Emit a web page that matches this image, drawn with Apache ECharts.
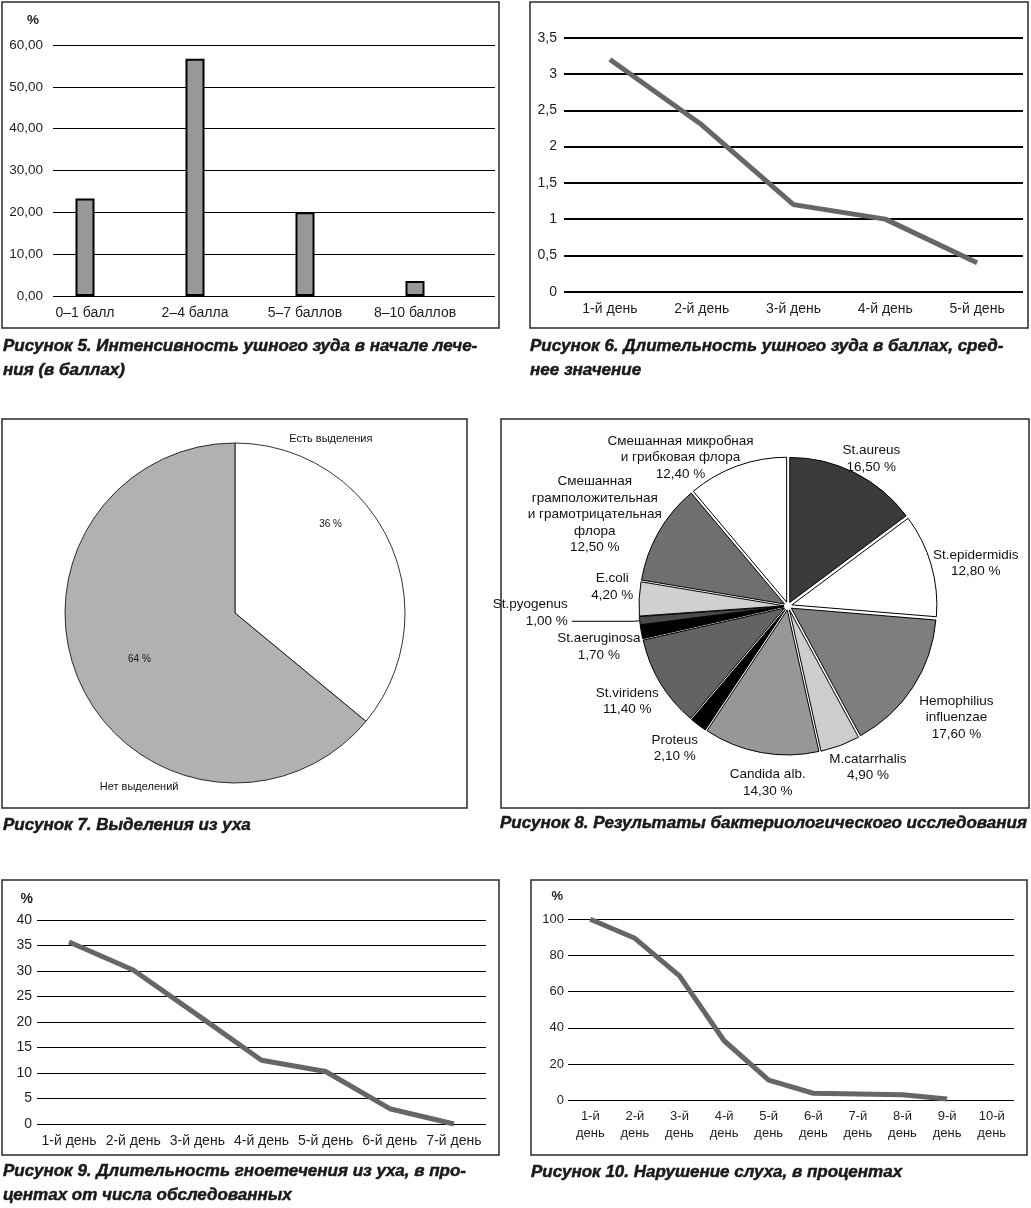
<!DOCTYPE html>
<html><head><meta charset="utf-8">
<script src="https://cdn.jsdelivr.net/npm/echarts@6/dist/echarts.min.js"></script>
<style>html,body{margin:0;padding:0;background:#fff}#c{width:1031px;height:1208px}</style>
</head><body><div id="c"></div>
<script>
// ---- data ----
const fig5Categories = ['0–1 балл', '2–4 балла', '5–7 баллов', '8–10 баллов'];
const fig5Values = [23.3, 56.7, 20.0, 3.6];
const fig5Ticks = [0, 60, 10];

const fig6Days = ['1-й день', '2-й день', '3-й день', '4-й день', '5-й день'];
const fig6Values = [3.2, 2.3, 1.2, 1.0, 0.4];
const fig6Ticks = [0, 3.5, 0.5];

const fig7Names = ['Есть выделения', 'Нет выделений'];
const fig7Values = [36, 64];

const fig8Names = ['St.aureus', 'St.epidermidis', 'Hemophilius\ninfluenzae', 'M.catarrhalis',
  'Candida alb.', 'Proteus', 'St.viridens', 'St.aeruginosa', 'St.pyogenus', 'E.coli',
  'Смешанная\nграмположительная\nи грамотрицательная\nфлора', 'Смешанная микробная\nи грибковая флора'];
const fig8Values = [16.5, 12.8, 17.6, 4.9, 14.3, 2.1, 11.4, 1.7, 1.0, 4.2, 12.5, 12.4];

const fig9Days = ['1-й день', '2-й день', '3-й день', '4-й день', '5-й день', '6-й день', '7-й день'];
const fig9Values = [35.7, 30.2, 21.4, 12.5, 10.3, 3.0, 0];
const fig9Ticks = [0, 40, 5];

const fig10Days = ['1-й\nдень', '2-й\nдень', '3-й\nдень', '4-й\nдень', '5-й\nдень', '6-й\nдень', '7-й\nдень', '8-й\nдень', '9-й\nдень', '10-й\nдень'];
const fig10Values = [100, 89.5, 68.7, 32.9, 11.2, 3.9, 3.5, 3.1, 0.7, null];
const fig10Ticks = [0, 100, 20];

const captions = [
  'Рисунок 5. Интенсивность ушного зуда в начале лече-\nния (в баллах)',
  'Рисунок 6. Длительность ушного зуда в баллах, сред-\nнее значение',
  'Рисунок 7. Выделения из уха',
  'Рисунок 8. Результаты бактериологического исследования',
  'Рисунок 9. Длительность гноетечения из уха, в про-\nцентах от числа обследованных',
  'Рисунок 10. Нарушение слуха, в процентах'
];

// ---- styles ----
const FONT = 'Liberation Sans, Arial, sans-serif';
const TXT = '#1e1e1e';
const fig8Colors = ['#3b3b3b', '#ffffff', '#7e7e7e', '#cdcdcd', '#979797', '#000000', '#636363', '#000000', '#4a4a4a', '#d0d0d0', '#6f6f6f', '#ffffff'];
const fig7Colors = ['#ffffff', '#b1b1b1'];
const fig8LabelNudge = {0: [-1, 21], 1: [7, 9], 2: [11, 9], 3: [14, -15], 4: [14, -8], 5: [0, -8], 6: [0, -2], 7: [-4, 8], 9: [12, -10], 10: [-30, 2], 11: [-43, 28]};
const comma = v => String(v).replace('.', ',');

const hiddenAxis = (type, grid, extra) => Object.assign({type, gridIndex: grid, show: false}, extra || {});
function valueAxis(grid, ticks, fmt, size, margin, lineW, name, nameGap, namePad) {
  return {
    type: 'value', gridIndex: grid, min: ticks[0], max: ticks[1], interval: ticks[2],
    axisLine: {show: false}, axisTick: {show: false},
    splitLine: {show: true, lineStyle: {color: '#000', width: lineW}},
    axisLabel: {formatter: fmt, fontSize: size, color: TXT, fontFamily: FONT, margin},
    name: name || '', nameLocation: 'end', nameGap: nameGap || 15,
    nameTextStyle: {fontWeight: 'bold', fontSize: size, color: TXT, fontFamily: FONT, align: 'right', padding: [0, namePad || 0, 0, 0]}
  };
}
function catAxis(grid, data, size, margin, lh) {
  return {
    type: 'category', gridIndex: grid, data, boundaryGap: true,
    axisLine: {show: false}, axisTick: {show: false},
    axisLabel: {interval: 0, fontSize: size, color: TXT, fontFamily: FONT, margin, lineHeight: lh || size * 1.2}
  };
}
function lineSeries(x, y, data) {
  return {type: 'line', xAxisIndex: x, yAxisIndex: y, data, showSymbol: false, symbol: 'none',
    lineStyle: {color: '#666', width: 5}, silent: true, connectNulls: false};
}
const labelPie = (center, radius, startAngle, data, fmt, size, extra) => Object.assign({
  type: 'pie', center, radius, startAngle, clockwise: true, silent: true, avoidLabelOverlap: false,
  data, itemStyle: {color: 'transparent', borderWidth: 0}, emphasis: {disabled: true},
  labelLine: {show: false},
  label: {show: true, position: 'inside', formatter: fmt, fontSize: size, color: '#111', fontFamily: FONT}
}, extra || {});

const fig7Data = fig7Names.map((n, i) => ({name: n, value: fig7Values[i]}));
const fig8Data = fig8Names.map((n, i) => ({name: n, value: fig8Values[i]}));
const pct8 = v => v.toFixed(2).replace('.', ',') + ' %';
const fmt8 = p => p.name + '\n' + pct8(p.value);

const boxes = [[2, 2, 497, 326], [530, 2, 498, 326], [2, 419, 465, 389], [501, 419, 528, 389], [2, 880, 497, 275], [531, 880, 496, 275]];
const captionPos = [[3, 335], [530, 335], [3, 814], [500, 812], [3, 1160], [531, 1161]];

const option = {
  animation: false,
  backgroundColor: '#fff',
  textStyle: {fontFamily: FONT},
  title: captions.map((t, i) => ({
    text: t, left: captionPos[i][0], top: captionPos[i][1], padding: 0,
    textStyle: {fontFamily: FONT, fontSize: 17, fontWeight: 'bold', fontStyle: 'italic', color: '#1a1a1a', lineHeight: 23.5,
      textBorderColor: '#1a1a1a', textBorderWidth: 0.5}
  })),
  graphic: boxes.map(b => ({type: 'rect', silent: true, z: 100,
    shape: {x: b[0], y: b[1], width: b[2], height: b[3]}, style: {fill: 'none', stroke: '#2a2a2a', lineWidth: 1.5}})),
  grid: [
    {left: 53, top: 45, width: 442, height: 251},
    {left: 30, top: 45, width: 440, height: 251},
    {left: 564, top: 37.7, width: 459, height: 254},
    {left: 37, top: 920, width: 449, height: 204},
    {left: 568, top: 919.3, width: 446, height: 181}
  ],
  xAxis: [
    hiddenAxis('category', 0, {data: fig5Categories}),
    catAxis(1, fig5Categories, 14, 9),
    catAxis(2, fig6Days, 14, 9),
    catAxis(3, fig9Days, 14, 9),
    catAxis(4, fig10Days, 13, 7, 17.6)
  ],
  yAxis: [
    valueAxis(0, fig5Ticks, v => v.toFixed(2).replace('.', ','), 13.5, 10, 1, '%', 18, 14),
    hiddenAxis('value', 1, {min: fig5Ticks[0], max: fig5Ticks[1]}),
    valueAxis(2, fig6Ticks, comma, 14, 7, 2),
    valueAxis(3, fig9Ticks, comma, 14, 5, 1, '%', 14, 4),
    valueAxis(4, fig10Ticks, comma, 13, 4, 1, '%', 16, 5)
  ],
  series: [
    {type: 'bar', xAxisIndex: 1, yAxisIndex: 1, data: fig5Values, barWidth: 19, silent: true,
      itemStyle: {color: '#989898', borderColor: '#000', borderWidth: 2}},
    lineSeries(2, 2, fig6Values),
    lineSeries(3, 3, fig9Values),
    lineSeries(4, 4, fig10Values),
    // Figure 7 pie
    {type: 'pie', center: [235, 613], radius: [0, 170], startAngle: 90, clockwise: true, silent: true,
      data: fig7Data.map((d, i) => Object.assign({}, d, {itemStyle: {color: fig7Colors[i]}})),
      itemStyle: {borderColor: '#000', borderWidth: 0.8}, label: {show: false}, labelLine: {show: false}},
    labelPie([235, 592], [0, 228], 100, fig7Data, p => p.value + ' %', 10),
    labelPie([235, 613], [0, 392], 126, fig7Data, p => p.name, 11),
    // Figure 8 exploded pie
    {type: 'pie', center: [788, 606], radius: [0, 145], startAngle: 90, clockwise: true, silent: true,
      selectedMode: 'multiple', selectedOffset: 4, avoidLabelOverlap: false,
      data: fig8Data.map((d, i) => Object.assign({}, d, {selected: true,
        itemStyle: {color: fig8Colors[i]},
        label: {show: i === 8}, labelLine: {show: i === 8}})),
      itemStyle: {borderColor: '#000', borderWidth: 1},
      select: {itemStyle: {borderColor: '#000', borderWidth: 1}},
      label: {position: 'outside', formatter: p => fmt8(p) + '\n ', fontSize: 13.5, lineHeight: 16.5, color: '#111', fontFamily: FONT, distanceToLabelLine: 4},
      labelLine: {length: 6, length2: 62, lineStyle: {color: '#000', width: 1}}},
    labelPie([788, 606], [0, 370], 90, fig8Data.map((d, i) => Object.assign({}, d, {label: {show: i !== 8}})), fmt8, 13.5,
      {labelLayout: p => { const n = fig8LabelNudge[p.dataIndex]; return n ? {dx: n[0], dy: n[1]} : {}; }})
  ]
};
option.series[option.series.length - 1].label.lineHeight = 16.5;

const chart = echarts.init(document.getElementById('c'), null, {renderer: 'canvas'});
chart.setOption(option);
</script>
</body></html>
